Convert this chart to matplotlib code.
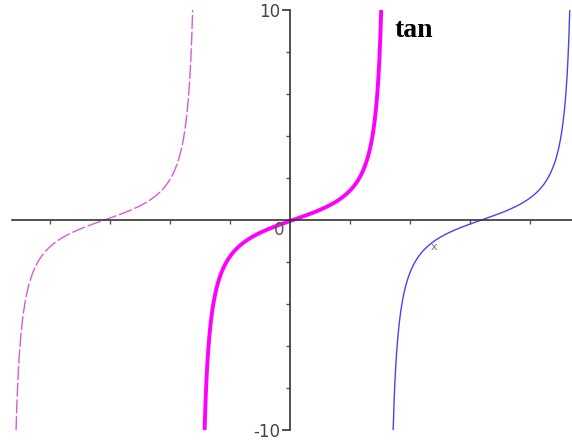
import matplotlib.pyplot as plt
import numpy as np

# branch centres of tan shown in the picture (x units: 1 tick = 1)
branch_centres = [-np.pi, 0.0, np.pi]
branch_colors = ['#d95ad9', '#ff00ff', '#4545f0']
branch_widths = [1.0, 2.8, 1.0]
branch_styles = [(0, (10, 2)), '-', '-']

x_ticks = [-4, -3, -2, -1, 1, 2, 3, 4]
y_ticks_minor = [-8, -6, -4, -2, 2, 4, 6, 8]
y_ticks_major = [-10, 10]
y_limit = 10

fig = plt.figure(figsize=(5.72, 4.48), dpi=100)
ax = fig.add_axes([0, 0, 1, 1])

for c, col, lw, ls in zip(branch_centres, branch_colors, branch_widths, branch_styles):
    half = np.arctan(y_limit)
    t = np.linspace(c - half, c + half, 400)
    ax.plot(t + 0.05, np.tan(t - c), color=col, lw=lw, linestyle=ls, solid_capstyle='butt')

ax.set_xlim(-4.83, 4.7)
ax.set_ylim(-10.86, 10.48)

for s in ['top', 'right']:
    ax.spines[s].set_visible(False)
ax.spines['left'].set_position(('data', 0))
ax.spines['bottom'].set_position(('data', 0))
ax.spines['left'].set_bounds(-10, 10)
ax.spines['bottom'].set_bounds(-4.63, 4.7)
for s in ['left', 'bottom']:
    ax.spines[s].set_color('#333333')
    ax.spines[s].set_linewidth(1.2)

ax.set_xticks(x_ticks)
ax.set_xticklabels([])
ax.tick_params(axis='x', direction='out', length=3, color='#555555', width=1)

ax.set_yticks(y_ticks_major)
ax.set_yticklabels(['-10', '10'])
ax.set_yticks(y_ticks_minor, minor=True)
ax.tick_params(axis='y', which='major', direction='out', length=6, width=1.2,
               color='#333333', labelsize=12, labelcolor='#444444', pad=1)
ax.tick_params(axis='y', which='minor', direction='out', length=3, width=1,
               color='#555555')

ax.text(-0.1, -0.05, '0', fontsize=12, color='#555555', ha='right', va='top')
ax.text(2.4, -1.3, 'x', fontsize=8, color='#777777', ha='center', va='center')
ax.text(1.75, 9.05, 'tan', fontsize=20, fontweight='bold',
        family='Liberation Serif', ha='left', va='center')

fig.savefig('out.png', dpi=100)
